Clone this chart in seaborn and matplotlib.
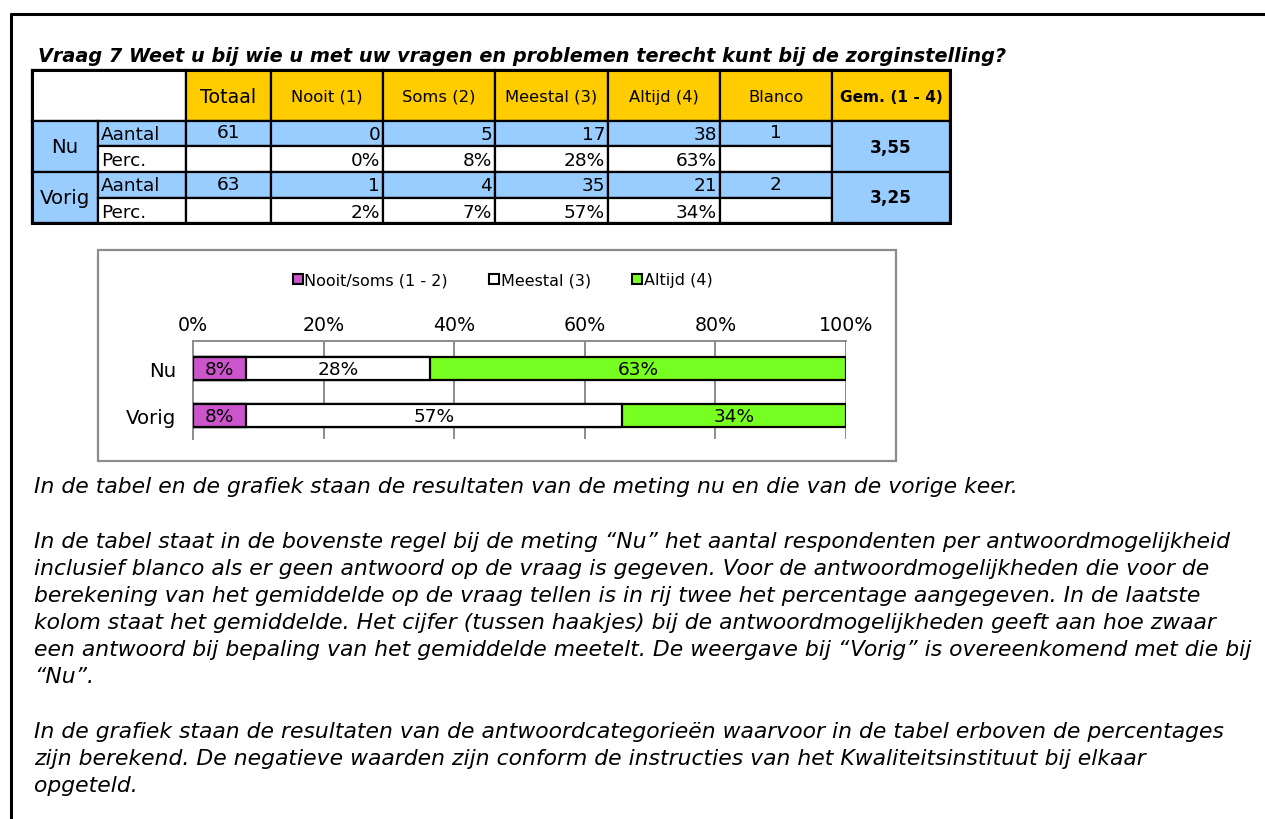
import numpy as np
import pandas as pd
import matplotlib
matplotlib.use("Agg")
import matplotlib.pyplot as plt
import seaborn as sns
from matplotlib.patches import Rectangle
from matplotlib.lines import Line2D

sns.set_style("white")
# the reference text is wide for its height; DejaVu Sans fits that better than Arial metrics
plt.rcParams["font.family"] = ["DejaVu Sans"]
plt.rcParams["text.color"] = "black"
plt.rcParams["xtick.color"] = "black"
plt.rcParams["ytick.color"] = "black"

# ----------------------
# Data
# ----------------------
title = "Vraag 7 Weet u bij wie u met uw vragen en problemen terecht kunt bij de zorginstelling?"
header = ["Totaal", "Nooit (1)", "Soms (2)", "Meestal (3)", "Altijd (4)", "Blanco", "Gem. (1 - 4)"]
nu_aantal = ["61", "0", "5", "17", "38", "1"]
nu_perc = ["", "0%", "8%", "28%", "63%", ""]
vorig_aantal = ["63", "1", "4", "35", "21", "2"]
vorig_perc = ["", "2%", "7%", "57%", "34%", ""]
gem = ["3,55", "3,25"]

groups = ["Nu", "Vorig"]
nooit_soms = [8, 8]
meestal = [28, 57]
altijd = [63, 34]
series_names = ["Nooit/soms (1 - 2)", "Meestal (3)", "Altijd (4)"]
series_colors = ["#CC55CC", "#FFFFFF", "#77FF22"]
pct_ticks = ["0%", "20%", "40%", "60%", "80%", "100%"]

body = [
    ("In de tabel en de grafiek staan de resultaten van de meting nu en die van de vorige keer.", 487),
    ("In de tabel staat in de bovenste regel bij de meting \u201cNu\u201d het aantal respondenten per antwoordmogelijkheid", 542),
    ("inclusief blanco als er geen antwoord op de vraag is gegeven. Voor de antwoordmogelijkheden die voor de", 569),
    ("berekening van het gemiddelde op de vraag tellen is in rij twee het percentage aangegeven. In de laatste", 596),
    ("kolom staat het gemiddelde. Het cijfer (tussen haakjes) bij de antwoordmogelijkheden geeft aan hoe zwaar", 623),
    ("een antwoord bij bepaling van het gemiddelde meetelt. De weergave bij \u201cVorig\u201d is overeenkomend met die bij", 650),
    ("\u201cNu\u201d.", 677),
    ("In de grafiek staan de resultaten van de antwoordcategorie\u00ebn waarvoor in de tabel erboven de percentages", 732),
    ("zijn berekend. De negatieve waarden zijn conform de instructies van het Kwaliteitsinstituut bij elkaar", 759),
    ("opgeteld.", 786),
]

W, H = 1265, 820
fig = plt.figure(figsize=(W / 100, H / 100), dpi=100)
page = fig.add_axes([0, 0, 1, 1])
page.set_xlim(0, W)
page.set_ylim(H, 0)
page.axis("off")

# page frame
page.plot([11, W], [15, 15], color="black", lw=2.2)
page.plot([11, 11], [15, H], color="black", lw=2.2)

page.text(38, 57, title, fontsize=13.9, fontweight="bold", style="italic", va="center", ha="left")

# ----------------------
# Table
# ----------------------
YELLOW = "#FFCC00"
BLUE = "#99CCFF"
cols = [32, 98, 186, 271, 383, 495, 608, 720, 832, 950]
rows = [71, 122, 147, 173, 199, 224]
fs = 13.3


def cell(x0, x1, y0, y1, color):
    page.add_patch(Rectangle((x0, y0), x1 - x0, y1 - y0, facecolor=color,
                             edgecolor="black", lw=1.6, zorder=1))


cell(cols[0], cols[2], rows[0], rows[1], "white")
for i, h in enumerate(header):
    cell(cols[i + 2], cols[i + 3], rows[0], rows[1], YELLOW)
    size = 13.7 if i == 0 else (11.1 if i == 6 else 11.8)
    page.text((cols[i + 2] + cols[i + 3]) / 2, (rows[0] + rows[1]) / 2 + 1, h,
              fontsize=size, ha="center", va="center",
              fontweight="bold" if i == 6 else "normal")

for g, (name, aantal, perc, gm) in enumerate(zip(groups, [nu_aantal, vorig_aantal],
                                                [nu_perc, vorig_perc], gem)):
    ya, yb, yc = rows[1 + 2 * g], rows[2 + 2 * g], rows[3 + 2 * g]
    cell(cols[0], cols[1], ya, yc, BLUE)
    page.text((cols[0] + cols[1]) / 2, (ya + yc) / 2, name, fontsize=14.2, ha="center", va="center")
    cell(cols[1], cols[2], ya, yb, BLUE)
    cell(cols[1], cols[2], yb, yc, "white")
    page.text(cols[1] + 3, (ya + yb) / 2, "Aantal", fontsize=fs, ha="left", va="center")
    page.text(cols[1] + 3, (yb + yc) / 2 + 1, "Perc.", fontsize=fs, ha="left", va="center")
    for j in range(6):
        cell(cols[j + 2], cols[j + 3], ya, yb, BLUE)
        cell(cols[j + 2], cols[j + 3], yb, yc, "white")
        if j in (0, 5):
            page.text((cols[j + 2] + cols[j + 3]) / 2, (ya + yb) / 2 - 1, aantal[j],
                      fontsize=fs, ha="center", va="center")
        else:
            page.text(cols[j + 3] - 3, (ya + yb) / 2, aantal[j], fontsize=fs, ha="right", va="center")
            page.text(cols[j + 3] - 3, (yb + yc) / 2 + 1, perc[j], fontsize=fs, ha="right", va="center")
    cell(cols[8], cols[9], ya, yc, BLUE)
    page.text((cols[8] + cols[9]) / 2, (ya + yc) / 2, gm, fontsize=12.2, fontweight="bold",
              ha="center", va="center")

page.add_patch(Rectangle((cols[0], rows[0]), cols[-1] - cols[0], rows[-1] - rows[0],
                         fill=False, edgecolor="black", lw=2.2, zorder=3))

# ----------------------
# Chart
# ----------------------
page.add_patch(Rectangle((98, 251), 798, 211, fill=False, edgecolor="#8C8C8C", lw=1.6))

df = pd.DataFrame({"groep": groups, "nooit_soms": nooit_soms, "meestal": meestal, "altijd": altijd})
tot = df[["nooit_soms", "meestal", "altijd"]].sum(axis=1)
pct = df[["nooit_soms", "meestal", "altijd"]].div(tot, axis=0) * 100
cum = pct.cumsum(axis=1)
cum["groep"] = groups

ax_left, ax_right, ax_top, ax_bot = 193, 846, 342, 440
ax = fig.add_axes([ax_left / W, 1 - ax_bot / H, (ax_right - ax_left) / W, (ax_bot - ax_top) / H])

# stacked bars: draw the cumulative totals from the back to the front
for col, color in zip(["altijd", "meestal", "nooit_soms"], series_colors[::-1]):
    sns.barplot(data=cum, x=col, y="groep", orient="h", color=color, edgecolor="black",
                linewidth=1.6, width=0.49, saturation=1, ax=ax, zorder=3)

labels = [nooit_soms, meestal, altijd]
for i in range(len(groups)):
    left = 0
    for k, col in enumerate(["nooit_soms", "meestal", "altijd"]):
        w = pct.loc[i, col]
        ax.text(left + w / 2, i + 0.02, f"{labels[k][i]}%", ha="center", va="center", fontsize=13.3, zorder=5)
        left += w

ax.set_xlim(0, 100)
ax.set_ylim(1.5, -0.585)
ax.set_xticks(np.arange(0, 101, 20))
ax.set_xticklabels(pct_ticks, fontsize=13.7)
ax.xaxis.tick_top()
ax.tick_params(axis="x", length=0, pad=5)
ax.tick_params(axis="y", length=0, pad=12, labelsize=14.2)
ax.set_xlabel("")
ax.set_ylabel("")
ax.grid(axis="x", color="#8C8C8C", lw=1.4, zorder=0)
ax.set_axisbelow(True)
for s in ["right", "bottom"]:
    ax.spines[s].set_visible(False)
for s in ["top", "left"]:
    ax.spines[s].set_color("#8C8C8C")
    ax.spines[s].set_linewidth(1.4)
ax.set_facecolor("none")

handles = [Line2D([], [], marker="s", ls="", markersize=7, markerfacecolor=c,
                  markeredgecolor="black", markeredgewidth=1.5) for c in series_colors]
fig.legend(handles, series_names, loc="center", bbox_to_anchor=(502 / W, 1 - 281 / H), ncol=3,
           frameon=False, fontsize=11.5, handletextpad=0.0, columnspacing=2.5, handlelength=0.8)

# ----------------------
# Explanation text
# ----------------------
for line, y in body:
    page.text(34, y, line, fontsize=15.75, style="italic", ha="left", va="center")

fig.savefig("out.png", dpi=100)
